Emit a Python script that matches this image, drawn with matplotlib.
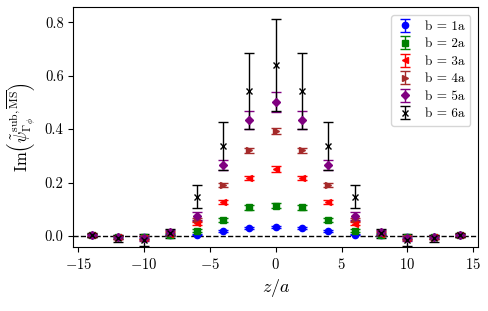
import matplotlib
matplotlib.use("Agg")
import matplotlib.pyplot as plt
import numpy as np

plt.rcParams['font.family'] = 'serif'
plt.rcParams['font.serif'] = ['cmr10', 'DejaVu Serif']
plt.rcParams['mathtext.fontset'] = 'cm'
plt.rcParams['axes.formatter.use_mathtext'] = True

z = [-14, -12, -10, -8, -6, -4, -2, 0, 2, 4, 6, 8, 10, 12, 14]

labels = ['b = 1a', 'b = 2a', 'b = 3a', 'b = 4a', 'b = 5a', 'b = 6a']

b1 = [0.002, -0.002, -0.003, 0.003, 0.005, 0.019, 0.030, 0.035, 0.030, 0.019, 0.005, 0.003, -0.003, -0.002, 0.002]
b1_err = [0.003, 0.003, 0.003, 0.003, 0.003, 0.003, 0.004, 0.004, 0.004, 0.003, 0.003, 0.003, 0.003, 0.003, 0.003]
b2 = [0.002, -0.004, -0.005, 0.005, 0.020, 0.060, 0.107, 0.113, 0.107, 0.060, 0.020, 0.005, -0.005, -0.004, 0.002]
b2_err = [0.004, 0.005, 0.005, 0.005, 0.006, 0.007, 0.008, 0.010, 0.008, 0.007, 0.006, 0.005, 0.005, 0.005, 0.004]
b3 = [0.003, -0.005, -0.006, 0.008, 0.047, 0.126, 0.216, 0.250, 0.216, 0.126, 0.046, 0.008, -0.006, -0.005, 0.003]
b3_err = [0.004, 0.005, 0.006, 0.006, 0.006, 0.007, 0.008, 0.010, 0.008, 0.007, 0.006, 0.006, 0.006, 0.005, 0.004]
b4 = [0.003, -0.006, -0.008, 0.010, 0.062, 0.191, 0.320, 0.393, 0.320, 0.191, 0.062, 0.010, -0.008, -0.006, 0.003]
b4_err = [0.005, 0.006, 0.007, 0.007, 0.007, 0.008, 0.009, 0.010, 0.009, 0.008, 0.007, 0.007, 0.007, 0.006, 0.005]
b5 = [0.003, -0.005, -0.009, 0.014, 0.075, 0.265, 0.434, 0.501, 0.434, 0.265, 0.075, 0.014, -0.009, -0.005, 0.003]
b5_err = [0.006, 0.008, 0.010, 0.010, 0.015, 0.020, 0.033, 0.036, 0.033, 0.020, 0.015, 0.010, 0.010, 0.008, 0.006]
b6 = [0.004, -0.009, -0.015, 0.010, 0.147, 0.335, 0.542, 0.639, 0.542, 0.335, 0.147, 0.010, -0.015, -0.009, 0.004]
b6_err = [0.008, 0.014, 0.022, 0.017, 0.044, 0.090, 0.143, 0.172, 0.143, 0.090, 0.044, 0.017, 0.022, 0.014, 0.008]

series = [b1, b2, b3, b4, b5, b6]
errors = [b1_err, b2_err, b3_err, b4_err, b5_err, b6_err]
colors = ['blue', 'green', 'red', 'brown', 'purple', 'black']
markers = ['o', 's', '<', '>', 'D', 'x']
msizes = [4.5, 4.5, 4.5, 4.5, 4.5, 4.0]

fig = plt.figure(figsize=(4.89, 3.11), dpi=100)
ax = fig.add_axes([0.150, 0.206, 0.828, 0.770])

for y, e, c, m, ms, lab in zip(series, errors, colors, markers, msizes, labels):
    ax.errorbar(z, y, yerr=e, fmt=m, color=c, markersize=ms, capsize=3.3,
                elinewidth=1.0, capthick=1.0, label=lab, linestyle='none')

ax.axhline(0, color='black', linestyle='--', linewidth=1.0, zorder=0)

ax.set_xlim(-15.38, 15.38)
ax.set_ylim(-0.041, 0.855)
ax.set_xticks([-15, -10, -5, 0, 5, 10, 15])
ax.set_yticks([0.0, 0.2, 0.4, 0.6, 0.8])
ax.set_yticklabels(['0.0', '0.2', '0.4', '0.6', '0.8'])
ax.set_xticklabels(['$-15$', '$-10$', '$-5$', '$0$', '$5$', '$10$', '$15$'])
ax.tick_params(labelsize=10.5)

ax.set_xlabel(r'$z/a$', fontsize=13)
ax.set_ylabel(r'$\mathrm{Im}\left(\tilde{\psi}^{\mathrm{sub},\overline{\mathrm{MS}}}_{\Gamma_\phi}\right)$', fontsize=12)

ax.legend(loc='upper right', fontsize=9.5, framealpha=0.8, labelspacing=0.4,
          handlelength=1.3, handletextpad=0.9, borderaxespad=0.6)

fig.savefig('out.png', dpi=100)
